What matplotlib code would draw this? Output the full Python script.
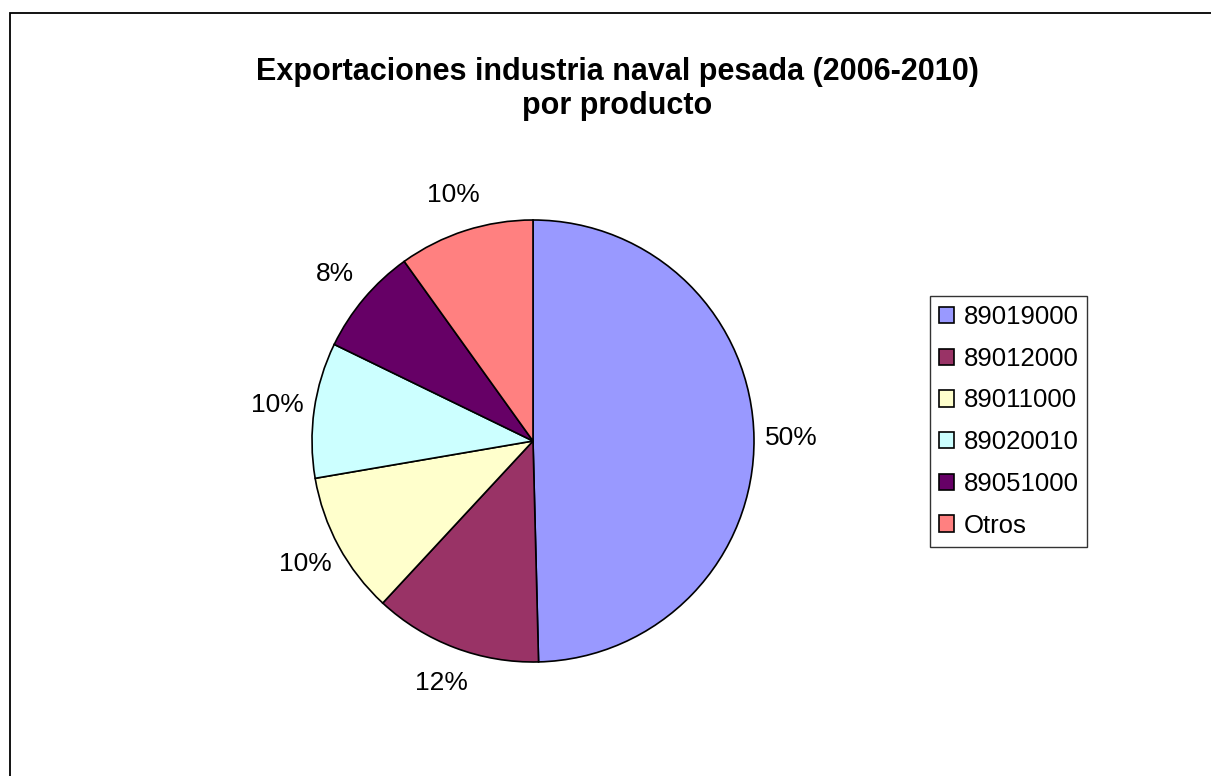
import matplotlib.pyplot as plt
from matplotlib.patches import Rectangle

plt.rcParams['font.family'] = ['Liberation Sans', 'DejaVu Sans']

# datos
productos = ['89019000', '89012000', '89011000', '89020010', '89051000', 'Otros']
porcentajes = [49.6, 12.3, 10.4, 9.9, 7.9, 9.9]
colores = ['#9999FF', '#993366', '#FFFFCC', '#CCFFFF', '#660066', '#FF8080']
titulo = 'Exportaciones industria naval pesada (2006-2010)\npor producto'

W, H = 1211, 776
fig = plt.figure(figsize=(W / 100, H / 100), dpi=100)

# borde del area del grafico (solo lados izquierdo y superior visibles)
fig.patches.append(Rectangle((10 / W, -0.1), 1.2, 1 - 13 / H + 0.1,
                             transform=fig.transFigure, fill=False,
                             edgecolor='black', linewidth=1.3))

# pie: centro (533, 441), radio 221 px
cx, cy, r = 533, 441, 221
ax = fig.add_axes([(cx - r) / W, (H - cy - r) / H, 2 * r / W, 2 * r / H])
wedges, texts, autotexts = ax.pie(
    porcentajes, colors=colores, startangle=90, counterclock=False,
    autopct=lambda p: f'{p:.0f}%', pctdistance=1.17,
    wedgeprops=dict(edgecolor='black', linewidth=1.2),
    textprops=dict(fontsize=19))
ax.set_xlim(-1, 1)
ax.set_ylim(-1, 1)
ax.set_aspect('auto')
ax.axis('off')

fig.text(617 / W, 1 - 89 / H, titulo, ha='center', va='center',
         fontsize=22, fontweight='bold', linespacing=1.2)

leg = fig.legend(wedges, productos, loc='upper left',
                 bbox_to_anchor=(930 / W, 1 - 296 / H), fontsize=18.5,
                 frameon=True, fancybox=False, edgecolor='black',
                 handlelength=0.6, handleheight=0.6, handletextpad=0.35,
                 labelspacing=0.69, borderpad=0.35, borderaxespad=0)
leg.get_frame().set_linewidth(1.0)

fig.savefig('out.png', dpi=100)
